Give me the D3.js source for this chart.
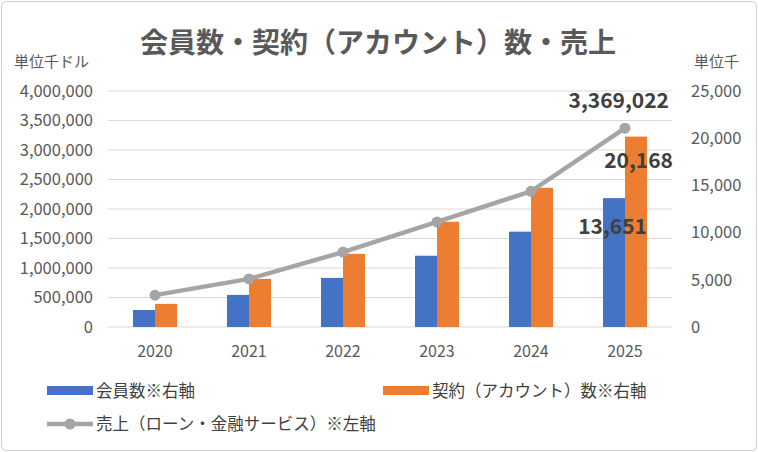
<!DOCTYPE html>
<html><head><meta charset="utf-8">
<script src="https://cdn.jsdelivr.net/npm/d3@7"></script>
<style>body{margin:0;background:#fff;font-family:"Noto Sans CJK JP","Noto Sans",sans-serif;}</style>
</head><body>
<svg id="c" width="758" height="452"></svg>
<script>
const years = ["2020","2021","2022","2023","2024","2025"];
const members = [1800, 3400, 5200, 7550, 10100, 13651];
const contracts = [2450, 5100, 7750, 11150, 14750, 20168];
const sales = [540000, 815000, 1270000, 1780000, 2300000, 3369022];
const leftTicks = [0,500000,1000000,1500000,2000000,2500000,3000000,3500000,4000000];
const rightTicks = [0,5000,10000,15000,20000,25000];

const svg = d3.select("#c");
const F = '"Noto Sans CJK JP","Noto Sans",sans-serif';
svg.append("rect").attr("x",1.5).attr("y",1.5).attr("width",755).attr("height",449).attr("rx",4)
  .attr("fill","#fff").attr("stroke","#d0d0d0");
const x = d3.scaleBand().domain(years).range([108,672]);
const yL = d3.scaleLinear().domain([0,4000000]).range([327,91]);
const yR = d3.scaleLinear().domain([0,25000]).range([327,91]);

svg.append("g").selectAll("line").data(leftTicks).join("line")
  .attr("x1",108).attr("x2",672).attr("y1",d=>yL(d)).attr("y2",d=>yL(d))
  .attr("stroke","#d9d9d9");

const gl = svg.append("g").attr("transform","translate(96,0)")
  .call(d3.axisLeft(yL).tickValues(leftTicks).tickSize(0).tickFormat(d3.format(",")));
gl.select(".domain").remove();
gl.selectAll("text").attr("font-size",16.5).attr("fill","#595959").attr("font-family",F);
const gr = svg.append("g").attr("transform","translate(688,0)")
  .call(d3.axisRight(yR).tickValues(rightTicks).tickSize(0).tickFormat(d3.format(",")));
gr.select(".domain").remove();
gr.selectAll("text").attr("font-size",16.5).attr("fill","#595959").attr("font-family",F);
const gx = svg.append("g").attr("transform","translate(0,340)")
  .call(d3.axisBottom(x).tickSize(0));
gx.select(".domain").remove();
gx.selectAll("text").attr("font-size",16).attr("fill","#595959").attr("font-family",F).attr("dy","0.9em");

const bw = 22;
svg.append("g").selectAll("rect").data(members).join("rect")
  .attr("x",(d,i)=>x(years[i])+x.bandwidth()/2-bw).attr("width",bw)
  .attr("y",d=>yR(d)).attr("height",d=>327-yR(d)).attr("fill","#4472c4");
svg.append("g").selectAll("rect").data(contracts).join("rect")
  .attr("x",(d,i)=>x(years[i])+x.bandwidth()/2).attr("width",bw)
  .attr("y",d=>yR(d)).attr("height",d=>327-yR(d)).attr("fill","#ed7d31");

const line = d3.line().x((d,i)=>x(years[i])+x.bandwidth()/2).y(d=>yL(d));
svg.append("path").datum(sales).attr("d",line).attr("fill","none").attr("stroke","#a5a5a5").attr("stroke-width",4.5);
svg.append("g").selectAll("circle").data(sales).join("circle")
  .attr("cx",(d,i)=>x(years[i])+x.bandwidth()/2).attr("cy",d=>yL(d)).attr("r",5.5).attr("fill","#a5a5a5");

const cx5 = x("2025")+x.bandwidth()/2;
const lab = (t,xx,yy,anchor)=>svg.append("text").attr("x",xx).attr("y",yy).attr("text-anchor",anchor)
  .attr("font-size",21).attr("font-weight","bold").attr("fill","#404040").attr("font-family",F).text(t);
lab(d3.format(",")(sales[5]),cx5+44,108,"end");
lab(d3.format(",")(contracts[5]),cx5+48,168,"end");
lab(d3.format(",")(members[5]),cx5+22,234,"end");

svg.append("text").attr("x",378).attr("y",53).attr("text-anchor","middle").attr("font-size",28)
  .attr("font-weight","bold").attr("fill","#595959").attr("font-family",F).text("会員数・契約（アカウント）数・売上");
svg.append("text").attr("x",14).attr("y",67).attr("font-size",15).attr("fill","#595959").attr("font-family",F).text("単位千ドル");
svg.append("text").attr("x",694).attr("y",67).attr("font-size",15).attr("fill","#595959").attr("font-family",F).text("単位千");

const lg = (t,xx,yy)=>svg.append("text").attr("x",xx).attr("y",yy).attr("font-size",16.5).attr("fill","#404040").attr("font-family",F).text(t);
svg.append("rect").attr("x",47).attr("y",386).attr("width",46).attr("height",9).attr("fill","#4472c4");
lg("会員数※右軸",96,397);
svg.append("rect").attr("x",383).attr("y",386).attr("width",46).attr("height",9).attr("fill","#ed7d31");
lg("契約（アカウント）数※右軸",432,397);
svg.append("line").attr("x1",47).attr("x2",93).attr("y1",424).attr("y2",424).attr("stroke","#a5a5a5").attr("stroke-width",4.5);
svg.append("circle").attr("cx",70).attr("cy",424).attr("r",5.5).attr("fill","#a5a5a5");
lg("売上（ローン・金融サービス）※左軸",96,430);
</script>
</body></html>
